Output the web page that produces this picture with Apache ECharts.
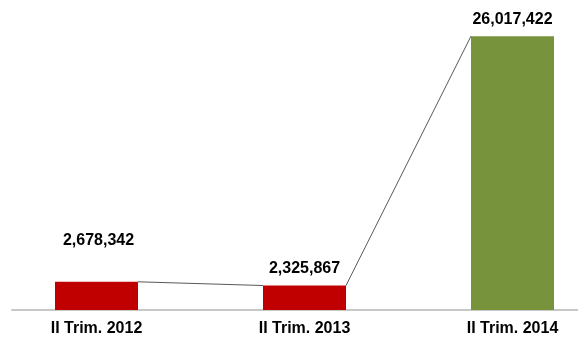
<!DOCTYPE html>
<html>
<head>
<meta charset="utf-8">
<script src="https://cdn.jsdelivr.net/npm/echarts@6/dist/echarts.min.js"></script>
<style>
  html, body { margin: 0; padding: 0; background: #ffffff; }
  #chart { width: 578px; height: 341px; }
</style>
</head>
<body>
<div id="chart"></div>
<script>
// Quarterly totals
var categories = ['II Trim. 2012', 'II Trim. 2013', 'II Trim. 2014'];
var values = [2678342, 2325867, 26017422];
var barColors = ['#C00000', '#C00000', '#77933C'];

var BAR_WIDTH = 83;
var FONT = '"Liberation Sans", Arial, sans-serif';

function fmt(v) {
  return v.toString().replace(/\B(?=(\d{3})+(?!\d))/g, ',');
}

// Segments joining the top corner of each bar to the next bar's top corner
var linkData = [];
for (var i = 0; i < values.length - 1; i++) {
  linkData.push([i, values[i], values[i + 1]]);
}

var chart = echarts.init(document.getElementById('chart'), null, { renderer: 'canvas' });

chart.setOption({
  animation: false,
  backgroundColor: '#ffffff',
  grid: [
    { left: -7.5, width: 624, top: 10, bottom: 31, containLabel: false, outerBoundsMode: 'none' },
    { left: 12, right: 0, top: 10, bottom: 31, containLabel: false, outerBoundsMode: 'none' }
  ],
  xAxis: [
    {
      type: 'category',
      gridIndex: 0,
      data: categories,
      axisLine: { show: false },
      axisTick: { show: false },
      axisLabel: {
        margin: 11,
        color: '#000000',
        fontFamily: FONT,
        fontWeight: 'bold',
        fontSize: 16
      }
    },
    {
      type: 'value',
      gridIndex: 1,
      min: 0,
      max: 1,
      axisLine: { show: true, lineStyle: { color: '#c8c8c8', width: 2 } },
      axisTick: { show: false },
      axisLabel: { show: false },
      splitLine: { show: false }
    }
  ],
  yAxis: [
    {
      type: 'value',
      gridIndex: 0,
      min: 0,
      max: 28500000,
      show: false,
      splitLine: { show: false }
    },
    {
      type: 'value',
      gridIndex: 1,
      show: false,
      splitLine: { show: false }
    }
  ],
  series: [
    {
      type: 'bar',
      xAxisIndex: 0,
      yAxisIndex: 0,
      barWidth: BAR_WIDTH,
      z: 2,
      data: values.map(function (v, i) {
        var item = { value: v, itemStyle: { color: barColors[i] } };
        if (i === 0) {
          item.label = { distance: 33, offset: [2, 0] };
        }
        return item;
      }),
      label: {
        show: true,
        position: 'top',
        distance: 9,
        color: '#000000',
        fontFamily: FONT,
        fontWeight: 'bold',
        fontSize: 16,
        formatter: function (p) { return fmt(p.value); }
      }
    },
    {
      type: 'custom',
      xAxisIndex: 0,
      yAxisIndex: 0,
      z: 3,
      data: linkData,
      renderItem: function (params, api) {
        var idx = api.value(0);
        var p0 = api.coord([idx, api.value(1)]);
        var p1 = api.coord([idx + 1, api.value(2)]);
        return {
          type: 'line',
          shape: {
            x1: p0[0] + BAR_WIDTH / 2,
            y1: p0[1],
            x2: p1[0] - BAR_WIDTH / 2,
            y2: p1[1]
          },
          style: { stroke: '#595959', lineWidth: 1 }
        };
      }
    }
  ]
});
</script>
</body>
</html>
